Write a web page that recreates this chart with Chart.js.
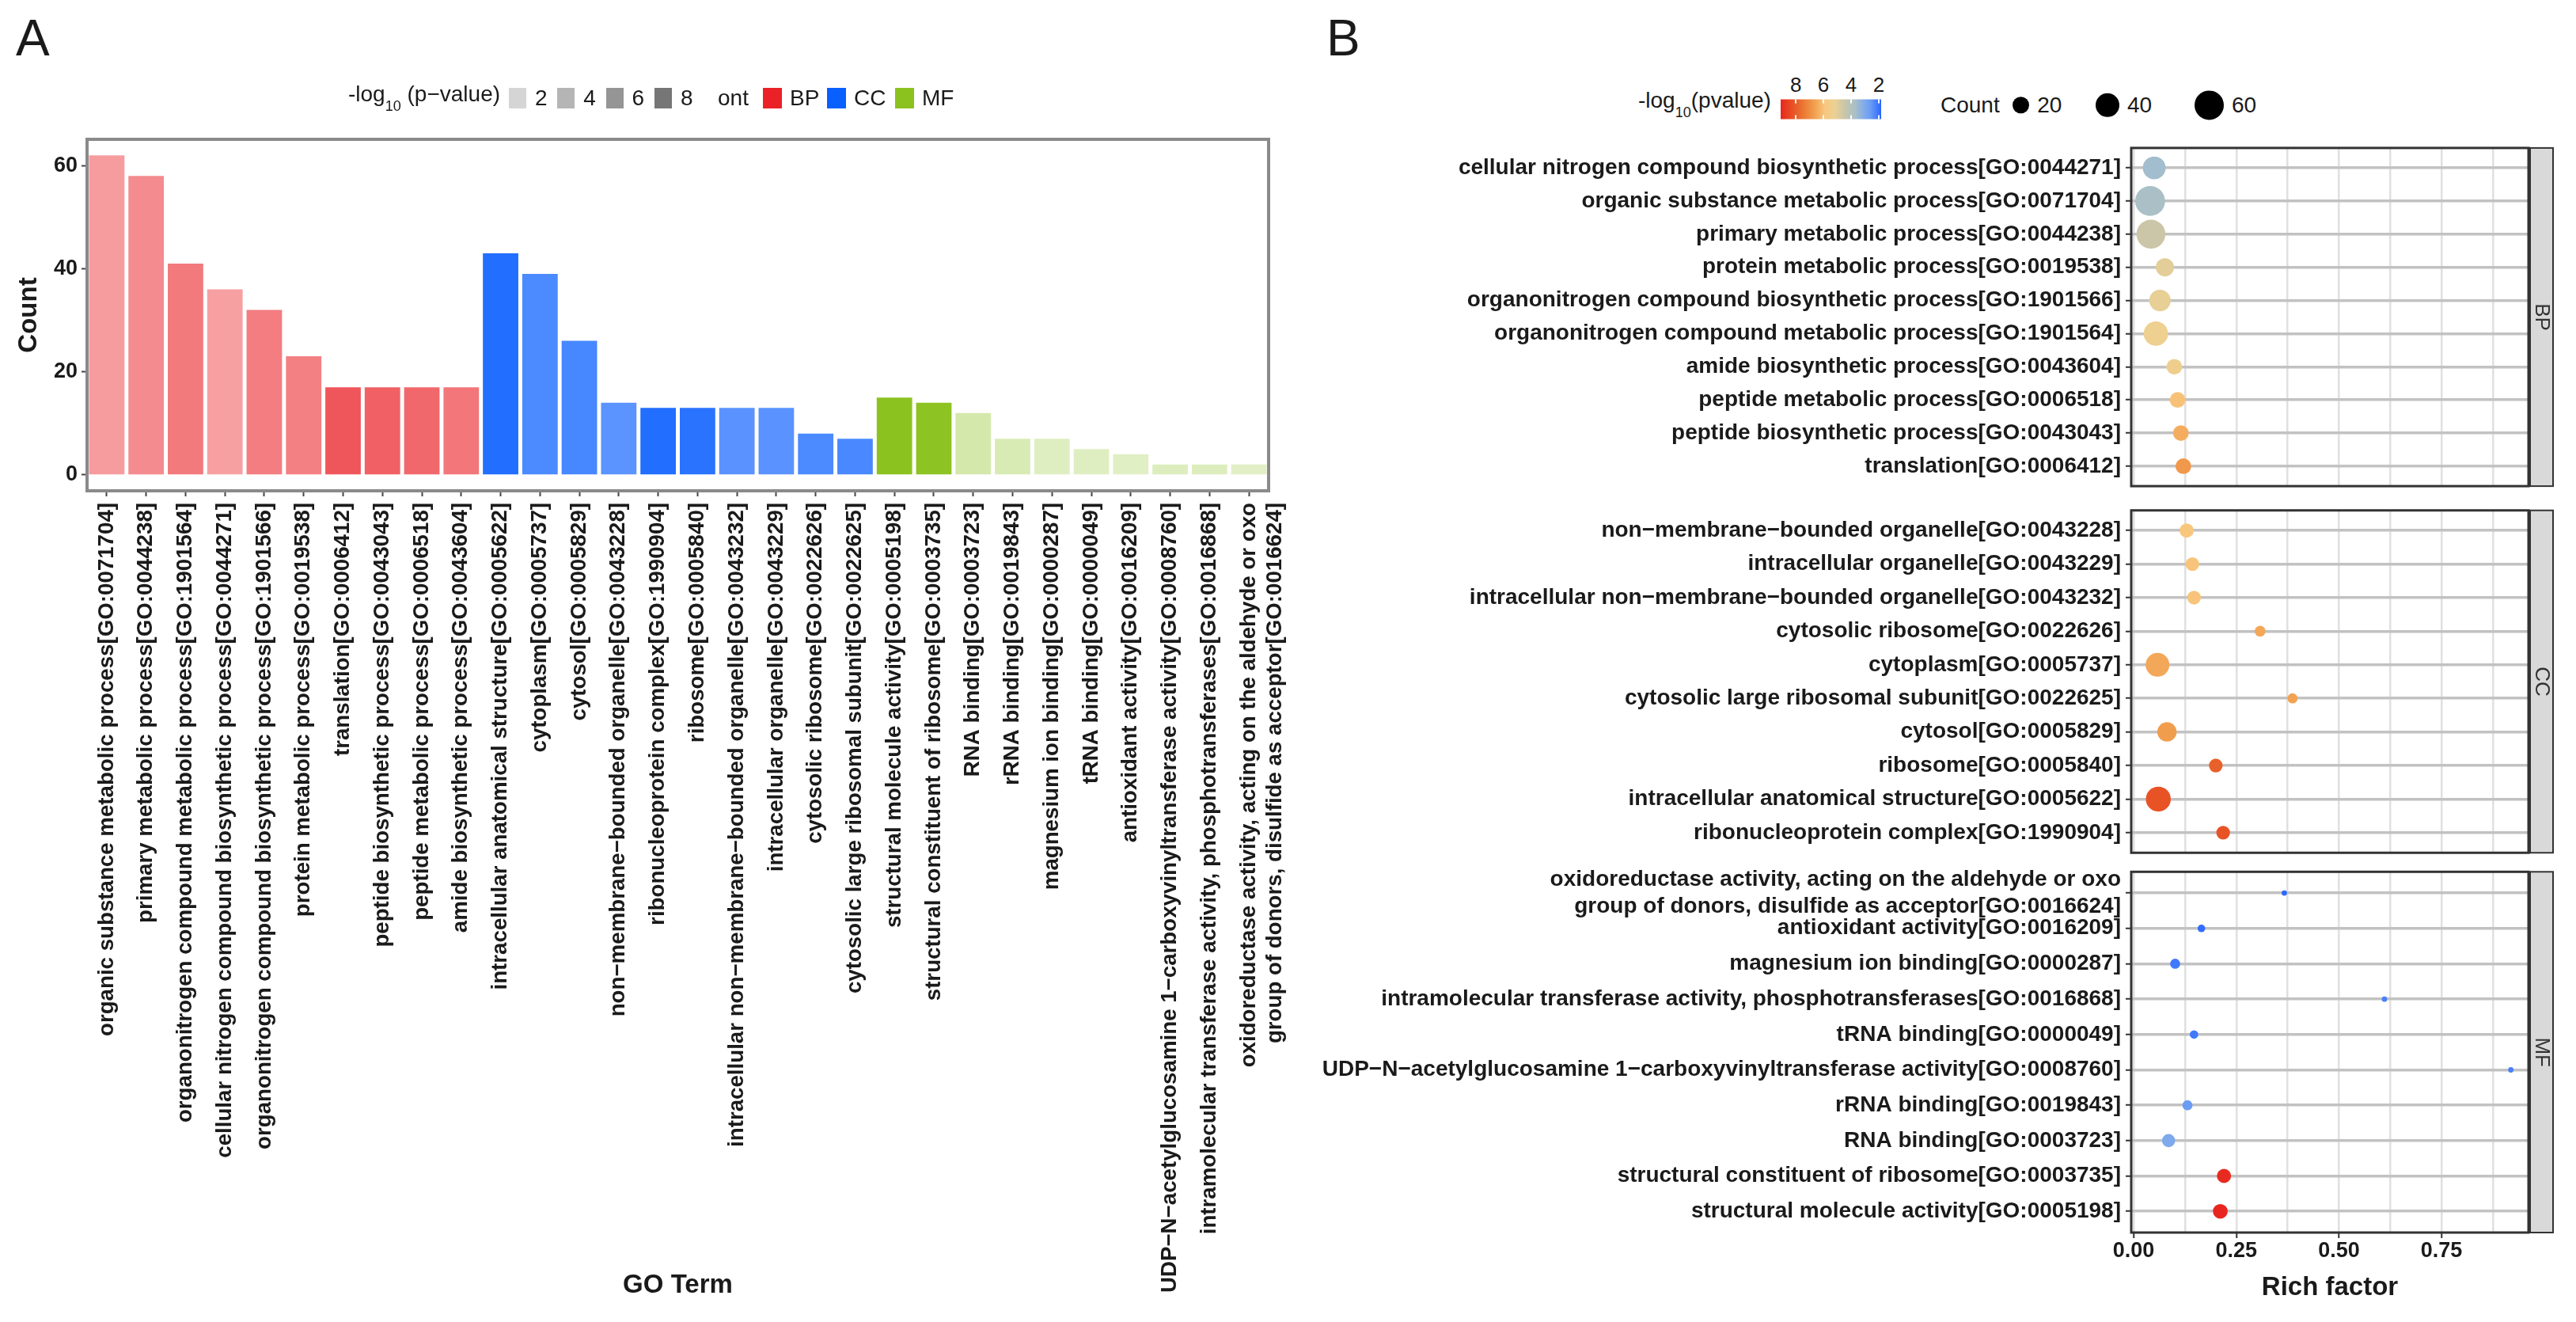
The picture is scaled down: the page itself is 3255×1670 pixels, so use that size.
<!DOCTYPE html>
<html>
<head>
<meta charset="utf-8">
<script src="https://cdn.jsdelivr.net/npm/chart.js@4.4.1/dist/chart.umd.min.js"></script>
<style>
  html, body { margin: 0; padding: 0; background: #fff; }
  body { width: 3255px; height: 1670px; position: relative; overflow: hidden;
         font-family: "Liberation Sans", Arial, sans-serif; color: #1a1a1a; }
  canvas { position: absolute; }
  .abs { position: absolute; white-space: nowrap; line-height: 1; transform: translateY(-50%); }
  .letter { position: absolute; font-size: 64px; line-height: 1; }
</style>
</head>
<body>
<div class="letter" style="left:20px; top:16px;">A</div>
<div class="letter" style="left:1676px; top:16px;">B</div>
<canvas id="barChart" width="1640" height="1670" style="left:0; top:0;"></canvas>
<canvas id="bpChart" width="1615" height="465" style="left:1640px; top:168px;"></canvas>
<canvas id="ccChart" width="1615" height="464" style="left:1640px; top:629px;"></canvas>
<canvas id="mfChart" width="1615" height="578" style="left:1640px; top:1092px;"></canvas>

<script>
const FONT = '"Liberation Sans", Arial, sans-serif';

// GO terms in panel A order
const goTerms = [
  'organic substance metabolic process[GO:0071704]',
  'primary metabolic process[GO:0044238]',
  'organonitrogen compound metabolic process[GO:1901564]',
  'cellular nitrogen compound biosynthetic process[GO:0044271]',
  'organonitrogen compound biosynthetic process[GO:1901566]',
  'protein metabolic process[GO:0019538]',
  'translation[GO:0006412]',
  'peptide biosynthetic process[GO:0043043]',
  'peptide metabolic process[GO:0006518]',
  'amide biosynthetic process[GO:0043604]',
  'intracellular anatomical structure[GO:0005622]',
  'cytoplasm[GO:0005737]',
  'cytosol[GO:0005829]',
  'non\u2212membrane\u2212bounded organelle[GO:0043228]',
  'ribonucleoprotein complex[GO:1990904]',
  'ribosome[GO:0005840]',
  'intracellular non\u2212membrane\u2212bounded organelle[GO:0043232]',
  'intracellular organelle[GO:0043229]',
  'cytosolic ribosome[GO:0022626]',
  'cytosolic large ribosomal subunit[GO:0022625]',
  'structural molecule activity[GO:0005198]',
  'structural constituent of ribosome[GO:0003735]',
  'RNA binding[GO:0003723]',
  'rRNA binding[GO:0019843]',
  'magnesium ion binding[GO:0000287]',
  'tRNA binding[GO:0000049]',
  'antioxidant activity[GO:0016209]',
  'UDP\u2212N\u2212acetylglucosamine 1\u2212carboxyvinyltransferase activity[GO:0008760]',
  'intramolecular transferase activity, phosphotransferases[GO:0016868]',
  'oxidoreductase activity, acting on the aldehyde or oxo\ngroup of donors, disulfide as acceptor[GO:0016624]'
];
const goOnt = ['BP','BP','BP','BP','BP','BP','BP','BP','BP','BP',
               'CC','CC','CC','CC','CC','CC','CC','CC','CC','CC',
               'MF','MF','MF','MF','MF','MF','MF','MF','MF','MF'];
const goCounts = [62, 58, 41, 36, 32, 23, 17, 17, 17, 17,
                  43, 39, 26, 14, 13, 13, 13, 13, 8, 7,
                  15, 14, 12, 7, 7, 5, 4, 2, 2, 2];
// -log10(p-value)
const goLogP = [3.75, 4.5, 5.3, 3.6, 5.1, 5.0, 6.8, 6.4, 6.0, 5.4,
                8.2, 6.5, 6.7, 5.9, 8.2, 7.9, 5.95, 5.95, 6.5, 6.6,
                9.1, 9.0, 3.0, 2.6, 2.1, 2.1, 1.9, 2.2, 2.2, 1.85];

// panel B facets, top to bottom, with rich factor
const bpTerms = [goTerms[3], goTerms[0], goTerms[1], goTerms[5], goTerms[4],
                 goTerms[2], goTerms[9], goTerms[8], goTerms[7], goTerms[6]];
const bpRich = [0.050, 0.040, 0.042, 0.076, 0.064, 0.054, 0.099, 0.107, 0.115, 0.121];
const ccTerms = [goTerms[13], goTerms[17], goTerms[16], goTerms[18], goTerms[11],
                 goTerms[19], goTerms[12], goTerms[15], goTerms[10], goTerms[14]];
const ccRich = [0.129, 0.143, 0.147, 0.308, 0.058, 0.387, 0.081, 0.200, 0.060, 0.218];
const mfTerms = [goTerms[29], goTerms[26], goTerms[24], goTerms[28], goTerms[25],
                 goTerms[27], goTerms[23], goTerms[22], goTerms[21], goTerms[20]];
const mfRich = [0.367, 0.165, 0.101, 0.611, 0.147, 0.919, 0.131, 0.085, 0.220, 0.211];

const countTicks = [0, 20, 40, 60];
const richTicks = [0, 0.25, 0.5, 0.75];
const richGrid = [0, 0.125, 0.25, 0.375, 0.5, 0.625, 0.75, 0.875];
const alphaLegend = [2, 4, 6, 8];
const ontNames = ['BP', 'CC', 'MF'];
const colorbarTicks = [8, 6, 4, 2];
const sizeLegend = [20, 40, 60];

// ---- styling helpers ----
const ontColor = { BP: [234, 34, 40], CC: [10, 95, 255], MF: [140, 194, 31] };
const P_MIN = 1.82, P_MAX = 9.1;
const gradStops = [
  [1.82, '#2a66ff'], [2.6, '#6b9cf5'], [3.0, '#7ea9ec'], [3.7, '#a8c0c8'],
  [4.5, '#cbc6a8'], [5.2, '#ecd193'], [5.9, '#f8c77e'], [6.6, '#f2a252'],
  [7.3, '#ec8038'], [7.9, '#e8612a'], [8.5, '#e84522'], [9.1, '#e8261f']
];

function alphaFor(v) { return 0.25 + 0.75 * (v - P_MIN) / (P_MAX - P_MIN); }
function rgba(c, a) { return `rgba(${c[0]},${c[1]},${c[2]},${a.toFixed(3)})`; }
function hex2rgb(h) { return [1, 3, 5].map(i => parseInt(h.substr(i, 2), 16)); }
function colorFor(v) {
  v = Math.max(P_MIN, Math.min(P_MAX, v));
  for (let i = 1; i < gradStops.length; i++) {
    const [v1, c1] = gradStops[i - 1], [v2, c2] = gradStops[i];
    if (v <= v2) {
      const t = (v - v1) / (v2 - v1), a = hex2rgb(c1), b = hex2rgb(c2);
      return `rgb(${a.map((x, k) => Math.round(x + (b[k] - x) * t)).join(',')})`;
    }
  }
  return gradStops[gradStops.length - 1][1];
}
function sizeFor(n) { return 2.4 * Math.sqrt(n); }

// keep the layout from reserving room for overhanging tick labels
function noOverhang(s) { s.paddingTop = 0; s.paddingBottom = 0; s.paddingLeft = 0; s.paddingRight = 0; }

// ---- panel A: bar chart ----
const frameA = {
  id: 'frameA',
  afterDraw(chart) {
    const { ctx, chartArea: a } = chart;
    ctx.save();
    ctx.strokeStyle = '#8a8a8a';
    ctx.lineWidth = 4;
    ctx.strokeRect(a.left, a.top, a.right - a.left, a.bottom - a.top);
    ctx.restore();
  }
};

new Chart(document.getElementById('barChart'), {
  type: 'bar',
  data: {
    labels: goTerms.map(t => t.split('\n')),
    datasets: [{
      data: goCounts,
      backgroundColor: goCounts.map((_, i) => rgba(ontColor[goOnt[i]], alphaFor(goLogP[i]))),
      borderWidth: 0,
      barPercentage: 0.9,
      categoryPercentage: 1.0
    }]
  },
  options: {
    responsive: false,
    animation: false,
    events: [],
    layout: { padding: { top: 176, right: 37, bottom: 0, left: 0 } },
    plugins: { legend: { display: false }, tooltip: { enabled: false } },
    scales: {
      x: {
        offset: true,
        grid: { offset: false, drawOnChartArea: false, tickLength: 7, tickColor: '#444', tickWidth: 2 },
        border: { display: false },
        ticks: {
          autoSkip: false, minRotation: 90, maxRotation: 90, padding: 8,
          color: '#1a1a1a', font: { family: FONT, size: 27.7, weight: 'bold' }
        },
        title: {
          display: true, text: 'GO Term', color: '#1a1a1a',
          font: { family: FONT, size: 33, weight: 'bold' },
          padding: { top: 0, bottom: 26 }
        },
        afterFit: s => { s.height = 1050; noOverhang(s); }
      },
      y: {
        min: -3.1, max: 65.1,
        afterBuildTicks: s => { s.ticks = countTicks.map(v => ({ value: v })); },
        grid: { drawOnChartArea: false, tickLength: 7, tickColor: '#444', tickWidth: 2 },
        border: { display: false },
        ticks: { padding: 5, color: '#1a1a1a', font: { family: FONT, size: 27, weight: 'bold' } },
        title: {
          display: true, text: 'Count', color: '#1a1a1a',
          font: { family: FONT, size: 33, weight: 'bold' },
          padding: { top: 17, bottom: 0 }
        },
        afterFit: s => { s.width = 110; noOverhang(s); }
      }
    }
  },
  plugins: [frameA]
});

// ---- panel B: faceted dot plot ----
function facetFrame(label) {
  return {
    id: 'facetFrame',
    afterDraw(chart) {
      const { ctx, chartArea: a } = chart;
      const h = a.bottom - a.top;
      ctx.save();
      ctx.fillStyle = '#d9d9d9';
      ctx.fillRect(a.right + 2, a.top, 29, h);
      ctx.strokeStyle = '#333';
      ctx.lineWidth = 2;
      ctx.strokeRect(a.right + 2, a.top, 29, h);
      ctx.lineWidth = 3;
      ctx.strokeRect(a.left, a.top, a.right - a.left, h);
      ctx.translate(a.right + 16.5, (a.top + a.bottom) / 2);
      ctx.rotate(Math.PI / 2);
      ctx.fillStyle = '#333';
      ctx.font = `26px ${FONT}`;
      ctx.textAlign = 'center';
      ctx.textBaseline = 'middle';
      ctx.fillText(label, 0, 0);
      ctx.restore();
    }
  };
}

function facetChart(id, terms, rich, strip, isBottom) {
  const idx = terms.map(t => goTerms.indexOf(t));
  return new Chart(document.getElementById(id), {
    type: 'scatter',
    data: {
      datasets: [{
        data: terms.map((_, i) => ({ x: rich[i], y: i })),
        pointRadius: idx.map(k => sizeFor(goCounts[k])),
        pointBackgroundColor: idx.map(k => colorFor(goLogP[k])),
        pointBorderWidth: 0
      }]
    },
    options: {
      responsive: false,
      animation: false,
      events: [],
      layout: { padding: { top: 6, right: 60, bottom: isBottom ? 0 : 6, left: 0 } },
      plugins: { legend: { display: false }, tooltip: { enabled: false } },
      scales: {
        x: {
          type: 'linear', min: -0.006, max: 0.962,
          afterBuildTicks: s => { s.ticks = richGrid.map(v => ({ value: v })); },
          grid: {
            color: '#e0e0e0', lineWidth: 2.5, drawTicks: isBottom, tickLength: 7, tickWidth: 2,
            tickColor: c => richTicks.includes(c.tick && c.tick.value) ? '#333' : 'rgba(0,0,0,0)'
          },
          border: { display: false },
          ticks: {
            display: isBottom, autoSkip: false, padding: 0, maxRotation: 0,
            color: '#1a1a1a', font: { family: FONT, size: 27, weight: 'bold' },
            callback: v => richTicks.includes(v) ? v.toFixed(2) : ''
          },
          title: {
            display: isBottom, text: 'Rich factor', color: '#1a1a1a',
            font: { family: FONT, size: 33, weight: 'bold' },
            padding: { top: 0, bottom: 23 }
          },
          afterFit: s => { s.height = isBottom ? 113 : 0; noOverhang(s); }
        },
        y: {
          type: 'linear', reverse: true, min: -0.6, max: 9.6,
          afterBuildTicks: s => { s.ticks = terms.map((_, i) => ({ value: i })); },
          grid: { color: '#c2c2c2', lineWidth: 3.5, tickLength: 7, tickColor: '#333', tickWidth: 2 },
          border: { display: false },
          ticks: {
            autoSkip: false, padding: 6, color: '#1a1a1a',
            font: { family: FONT, size: 28, weight: 'bold' },
            callback: v => terms[v].split('\n')
          },
          afterFit: s => { s.width = 1053; noOverhang(s); }
        }
      }
    },
    plugins: [facetFrame(strip)]
  });
}

facetChart('bpChart', bpTerms, bpRich, 'BP', false);
facetChart('ccChart', ccTerms, ccRich, 'CC', false);
facetChart('mfChart', mfTerms, mfRich, 'MF', true);

// ---- legends ----
function put(html, left, cy, css) {
  const d = document.createElement('div');
  d.className = 'abs';
  d.innerHTML = html;
  d.style.left = left + 'px';
  d.style.top = cy + 'px';
  if (css) Object.assign(d.style, css);
  document.body.appendChild(d);
  return d;
}
const legFont = { fontSize: '28px' };
const subCss = 'font-size:18px; vertical-align:-12px;';

// panel A legend
put(`-log<sub style="${subCss}">10</sub> (p\u2212value)`, 440, 124, legFont);
alphaLegend.forEach((v, i) => {
  const x = 643 + i * 61.3;
  put('', x, 124, { width: '22px', height: '26px', background: rgba([100, 100, 100], alphaFor(v)) });
  put(String(v), x + 33, 124, legFont);
});
put('ont', 907, 124, legFont);
[964, 1045, 1131].forEach((x, i) => {
  put('', x, 124, { width: '24px', height: '26px', background: rgba(ontColor[ontNames[i]], 1) });
  put(ontNames[i], x + 34, 124, legFont);
});

// panel B legend: colour bar
put(`-log<sub style="${subCss}">10</sub>(pvalue)`, 2070, 132, legFont);
const cbLeft = 2250, cbWidth = 127;
const cbX = v => cbLeft + (P_MAX - v) / (P_MAX - P_MIN) * cbWidth;
const grad = gradStops.slice().reverse()
  .map(([v, c]) => `${c} ${((P_MAX - v) / (P_MAX - P_MIN) * 100).toFixed(1)}%`).join(', ');
put('', cbLeft, 137.5, { width: cbWidth + 'px', height: '25px', background: `linear-gradient(to right, ${grad})` });
colorbarTicks.forEach(v => {
  const x = cbX(v);
  put('', x - 1, 127.5, { width: '2px', height: '5px', background: '#fff' });
  put('', x - 1, 147.5, { width: '2px', height: '5px', background: '#fff' });
  put(String(v), x, 107, { fontSize: '26px', transform: 'translate(-50%, -50%)' });
});

// panel B legend: dot size
put('Count', 2452, 133, legFont);
[2553.5, 2662.7, 2791.4].forEach((x, i) => {
  const r = sizeFor(sizeLegend[i]);
  put('', x - r, 133, { width: 2 * r + 'px', height: 2 * r + 'px', borderRadius: '50%', background: '#000' });
  put(String(sizeLegend[i]), x + r + 10, 133, legFont);
});
</script>
</body>
</html>
